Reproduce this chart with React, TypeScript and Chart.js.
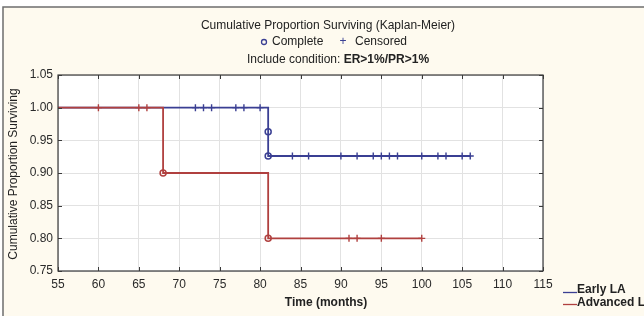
import { useEffect, useRef } from 'react';
import { Chart, registerables } from 'chart.js';

Chart.register(...registerables);

// ---- data ----
const xTicks = [55, 60, 65, 70, 75, 80, 85, 90, 95, 100, 105, 110, 115];
const yTicks = [0.75, 0.8, 0.85, 0.9, 0.95, 1.0, 1.05];

const earlyTimes = [55, 81, 81, 106];
const earlySurv = [1.0, 0.963, 0.926, 0.926];
const earlyCompleteTimes = [81, 81];
const earlyCompleteSurv = [0.963, 0.926];
const earlyCensoredTimes = [72, 73, 74, 77, 78, 80, 84, 86, 90, 92, 94, 95, 96, 97, 100, 102, 103, 105, 106];
const earlyCensoredSurv = [1, 1, 1, 1, 1, 1, 0.926, 0.926, 0.926, 0.926, 0.926, 0.926, 0.926, 0.926, 0.926, 0.926, 0.926, 0.926, 0.926];

const advTimes = [55, 68, 81, 100];
const advSurv = [1.0, 0.9, 0.8, 0.8];
const advCompleteTimes = [68, 81];
const advCompleteSurv = [0.9, 0.8];
const advCensoredTimes = [60, 65, 66, 91, 92, 95, 100];
const advCensoredSurv = [1, 1, 1, 0.8, 0.8, 0.8, 0.8];

const seriesNames = ['Early LA', 'Advanced LA'];
const titleText = 'Cumulative Proportion Surviving (Kaplan-Meier)';
const markerCompleteText = 'Complete';
const markerCensoredText = 'Censored';
const conditionLabel = 'Include condition: ';
const conditionValue = 'ER>1%/PR>1%';
const yTitle = 'Cumulative Proportion Surviving';
const xTitle = 'Time (months)';

const BLUE = '#3a3f93';
const RED = '#b0403f';
const FONT = '"Liberation Sans", Arial, sans-serif';

const pts = (xs: number[], ys: number[]) => xs.map((x, i) => ({ x, y: ys[i] }));

export default function App() {
  const ref = useRef<HTMLCanvasElement | null>(null);

  useEffect(() => {
    const canvas = ref.current;
    if (!canvas) return;

    const decor = {
      id: 'decor',
      beforeDraw(chart: any) {
        const { ctx, chartArea: a, width, height } = chart;
        ctx.save();
        ctx.fillStyle = '#ffffff';
        ctx.fillRect(0, 0, width, height);
        ctx.fillStyle = '#fefaef';
        ctx.fillRect(3, 7, width - 3, height - 7);
        ctx.strokeStyle = '#6e6e6e';
        ctx.lineWidth = 1.5;
        ctx.beginPath();
        ctx.moveTo(3, height);
        ctx.lineTo(3, 7);
        ctx.lineTo(width, 7);
        ctx.stroke();
        ctx.fillStyle = '#ffffff';
        ctx.fillRect(a.left, a.top, a.right - a.left, a.bottom - a.top);
        ctx.restore();
      },
      afterDraw(chart: any) {
        const { ctx, chartArea: a, scales } = chart;
        ctx.save();
        // plot frame
        ctx.strokeStyle = '#3a3a3a';
        ctx.lineWidth = 1.2;
        ctx.strokeRect(a.left, a.top, a.right - a.left, a.bottom - a.top);
        // inner tick marks
        ctx.lineWidth = 1;
        ctx.beginPath();
        xTicks.forEach((t) => {
          const px = Math.round(scales.x.getPixelForValue(t)) + 0.5;
          ctx.moveTo(px, a.bottom);
          ctx.lineTo(px, a.bottom - 4);
          ctx.moveTo(px, a.top);
          ctx.lineTo(px, a.top + 4);
        });
        yTicks.forEach((t) => {
          const py = Math.round(scales.y.getPixelForValue(t)) + 0.5;
          ctx.moveTo(a.left, py);
          ctx.lineTo(a.left + 4, py);
          ctx.moveTo(a.right, py);
          ctx.lineTo(a.right - 4, py);
        });
        ctx.stroke();

        // titles
        ctx.fillStyle = '#222222';
        ctx.textBaseline = 'middle';
        ctx.font = `12px ${FONT}`;
        ctx.textAlign = 'center';
        ctx.fillText(titleText, 328, 26);

        // marker legend line
        ctx.strokeStyle = BLUE;
        ctx.lineWidth = 1.3;
        ctx.beginPath();
        ctx.arc(264, 42, 2.5, 0, Math.PI * 2);
        ctx.stroke();
        ctx.textAlign = 'left';
        ctx.fillText(markerCompleteText, 272, 42);
        ctx.fillStyle = BLUE;
        ctx.textAlign = 'center';
        ctx.fillText('+', 343, 42);
        ctx.fillStyle = '#222222';
        ctx.textAlign = 'left';
        ctx.fillText(markerCensoredText, 355, 42);

        // condition line
        ctx.font = `12px ${FONT}`;
        const w1 = ctx.measureText(conditionLabel).width;
        ctx.font = `bold 12px ${FONT}`;
        const w2 = ctx.measureText(conditionValue).width;
        const start = 338 - (w1 + w2) / 2;
        ctx.font = `12px ${FONT}`;
        ctx.fillText(conditionLabel, start, 60);
        ctx.font = `bold 12px ${FONT}`;
        ctx.fillText(conditionValue, start + w1, 60);

        // axis titles
        ctx.font = `12px ${FONT}`;
        ctx.textAlign = 'center';
        ctx.save();
        ctx.translate(14, 174);
        ctx.rotate(-Math.PI / 2);
        ctx.fillText(yTitle, 0, 0);
        ctx.restore();
        ctx.font = `bold 12px ${FONT}`;
        ctx.fillText(xTitle, 326, 303);

        // series legend
        ctx.textAlign = 'left';
        ctx.lineWidth = 1.3;
        ctx.strokeStyle = BLUE;
        ctx.beginPath();
        ctx.moveTo(563, 292.5);
        ctx.lineTo(577, 292.5);
        ctx.stroke();
        ctx.fillText(seriesNames[0], 577, 290);
        ctx.strokeStyle = RED;
        ctx.beginPath();
        ctx.moveTo(563, 304.5);
        ctx.lineTo(577, 304.5);
        ctx.stroke();
        ctx.fillText(seriesNames[1], 577, 303);
        ctx.restore();
      },
    };

    const chart = new Chart(canvas, {
      type: 'line',
      data: {
        datasets: [
          {
            label: seriesNames[1],
            data: pts(advTimes, advSurv),
            borderColor: RED,
            borderWidth: 1.8,
            stepped: true,
            pointRadius: 0,
            fill: false,
            order: 1,
          },
          {
            label: seriesNames[0],
            data: pts(earlyTimes, earlySurv),
            borderColor: BLUE,
            borderWidth: 1.8,
            stepped: true,
            pointRadius: 0,
            fill: false,
            order: 2,
          },
          {
            label: 'Advanced complete',
            data: pts(advCompleteTimes, advCompleteSurv),
            showLine: false,
            pointStyle: 'circle',
            pointRadius: 3,
            borderColor: RED,
            backgroundColor: 'rgba(255,255,255,0)',
            pointBorderWidth: 1.5,
            order: 0,
          },
          {
            label: 'Early complete',
            data: pts(earlyCompleteTimes, earlyCompleteSurv),
            showLine: false,
            pointStyle: 'circle',
            pointRadius: 3,
            borderColor: BLUE,
            backgroundColor: 'rgba(255,255,255,0)',
            pointBorderWidth: 1.5,
            order: 0,
          },
          {
            label: 'Advanced censored',
            data: pts(advCensoredTimes, advCensoredSurv),
            showLine: false,
            pointStyle: 'cross',
            pointRadius: 3.5,
            borderColor: RED,
            pointBorderWidth: 1.4,
            order: 0,
          },
          {
            label: 'Early censored',
            data: pts(earlyCensoredTimes, earlyCensoredSurv),
            showLine: false,
            pointStyle: 'cross',
            pointRadius: 3.5,
            borderColor: BLUE,
            pointBorderWidth: 1.4,
            order: 0,
          },
        ],
      },
      options: {
        responsive: false,
        animation: false,
        devicePixelRatio: 1,
        layout: { padding: { top: 75, right: 101, left: 0, bottom: 0 } },
        plugins: {
          legend: { display: false },
          title: { display: false },
          tooltip: { enabled: false },
        },
        scales: {
          x: {
            type: 'linear',
            min: 55,
            max: 115,
            afterBuildTicks: (s: any) => {
              s.ticks = xTicks.map((v) => ({ value: v }));
            },
            afterFit: (s: any) => {
              s.height = 45;
            },
            grid: { color: '#e2e2e2', lineWidth: 1, drawTicks: false },
            border: { display: false },
            ticks: {
              padding: 6,
              color: '#2a2a2a',
              font: { family: FONT, size: 12 },
              callback: (v: any) => String(v),
              maxRotation: 0,
            },
          },
          y: {
            type: 'linear',
            min: 0.75,
            max: 1.05,
            afterBuildTicks: (s: any) => {
              s.ticks = yTicks.map((v) => ({ value: v }));
            },
            afterFit: (s: any) => {
              s.width = 58;
            },
            grid: { color: '#e2e2e2', lineWidth: 1, drawTicks: false },
            border: { display: false },
            ticks: {
              padding: 5,
              color: '#2a2a2a',
              font: { family: FONT, size: 12 },
              callback: (v: any) => Number(v).toFixed(2),
            },
          },
        },
      },
      plugins: [decor],
    } as any);

    return () => chart.destroy();
  }, []);

  return (
    <div style={{ position: 'fixed', left: 0, top: 0, width: 644, height: 316 }}>
      <canvas ref={ref} width={644} height={316} style={{ display: 'block' }} />
    </div>
  );
}
